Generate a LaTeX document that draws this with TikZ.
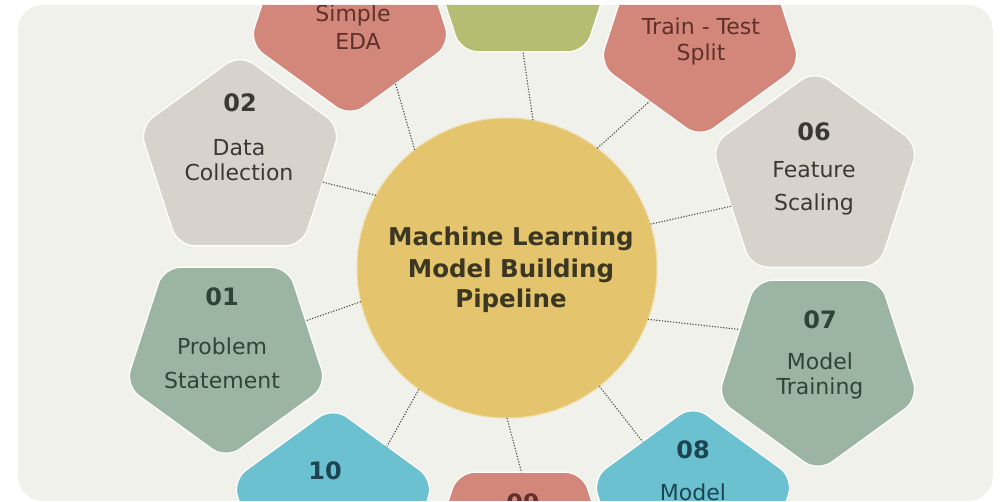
\documentclass[tikz,border=0pt]{standalone}
\usepackage{fontspec}
\setmainfont{DejaVu Sans}
\usetikzlibrary{shapes.geometric}
\definecolor{panelc}{HTML}{F1F1EB}
\definecolor{hubc}{HTML}{E4C46C}
\definecolor{greenc}{HTML}{9CB5A2}
\definecolor{beigec}{HTML}{D8D2CC}
\definecolor{salmonc}{HTML}{D3877B}
\definecolor{olivec}{HTML}{B5BD73}
\definecolor{cyanc}{HTML}{6BC1CF}
\definecolor{linkc}{HTML}{4A4A46}
\definecolor{titlec}{HTML}{3B3722}
\definecolor{gtxt}{HTML}{2E4536}
\definecolor{btxt}{HTML}{3A3836}
\definecolor{stxt}{HTML}{5E3029}
\definecolor{ctxt}{HTML}{1C4451}
\begin{document}
\begin{tikzpicture}[x=1pt,y=-1pt,
  pent/.style={regular polygon, regular polygon sides=5, minimum size=212pt,
    inner sep=0pt, outer sep=0pt, rounded corners=17pt, draw=white, line width=1.2pt},
  pup/.style={pent},
  pdown/.style={pent, shape border rotate=180},
  link/.style={draw=linkc, line width=1.1pt, dash pattern=on 1.2pt off 1.6pt},
  num/.style={font=\fontsize{24}{28}\selectfont\bfseries, anchor=base, inner sep=0pt},
  lbl/.style={font=\fontsize{22}{26}\selectfont, anchor=base, inner sep=0pt},
  ttl/.style={font=\fontsize{24.5}{30}\selectfont\bfseries, anchor=base, inner sep=0pt, text=titlec}]
\useasboundingbox (0,0) rectangle (1005,502);
\fill[white] (0,0) rectangle (1005,502);
\begin{scope}
\clip[rounded corners=25pt] (18,5) rectangle (993,501);
\fill[panelc] (18,5) rectangle (993,501);

% pentagons
\node[pdown, fill=greenc]  (p01) at (226,353) {};
\node[pup,   fill=beigec]  (p02) at (240,160) {};
\node[pdown, fill=salmonc] (p03) at (350,11) {};
\node[pup,   fill=olivec]  (p04) at (523,-34) {};
\node[pdown, fill=salmonc] (p05) at (700,32) {};
\node[pup,   fill=beigec, minimum size=218pt] (p06) at (815,179) {};
\node[pdown, fill=greenc]  (p07) at (818,366) {};
\node[pup,   fill=cyanc]   (p08) at (693,511) {};
\node[pdown, fill=salmonc] (p09) at (520,558) {};
\node[pup,   fill=cyanc]   (p10) at (333,513) {};

% hub
\node[circle, fill=hubc, draw=hubc!60!white, line width=1pt, minimum size=300pt,
  inner sep=0pt, outer sep=0pt] (hub) at (507,268) {};

% connectors
\draw[link] (hub.193.9) -- (p01.22.7);
\draw[link] (hub.151)   -- (p02.-15.1);
\draw[link] (hub.128)   -- (p03.-58.6);
\draw[link] (hub.80.4)  -- (p04.-90);
\draw[link] (hub.53)    -- (p05.-126);
\draw[link] (hub.17.6)  -- (p06.198.4);
\draw[link] (hub.-20.3) -- (p07.155.4);
\draw[link] (hub.-52)   -- (p08.126.2);
\draw[link] (hub.-90)   -- (p09.89);
\draw[link] (hub.-126)  -- (p10.51.8);

% title
\node[ttl] (t1) at (511,246) {Machine Learning};
\node[ttl] (t2) at (511,278) {Model Building};
\node[ttl] (t3) at (511,308) {Pipeline};

% 01
\node[num, text=gtxt] (n01) at (222,306) {01};
\node[lbl, text=gtxt] (l01a) at (222,355) {Problem};
\node[lbl, text=gtxt] (l01b) at (222,389) {Statement};
% 02
\node[num, text=btxt] (n02) at (240,112) {02};
\node[lbl, text=btxt] (l02a) at (239,156) {Data};
\node[lbl, text=btxt] (l02b) at (239,181) {Collection};
% 03
\node[lbl, text=stxt] (l03a) at (353,22) {Simple};
\node[lbl, text=stxt] (l03b) at (358,50) {EDA};
% 05
\node[lbl, text=stxt] (l05a) at (701,35) {Train - Test};
\node[lbl, text=stxt] (l05b) at (701,61) {Split};
% 06
\node[num, text=btxt] (n06) at (814,141) {06};
\node[lbl, text=btxt] (l06a) at (814,178) {Feature};
\node[lbl, text=btxt] (l06b) at (814,211) {Scaling};
% 07
\node[num, text=gtxt] (n07) at (820,329) {07};
\node[lbl, text=gtxt] (l07a) at (820,370) {Model};
\node[lbl, text=gtxt] (l07b) at (820,395) {Training};
% 08
\node[num, text=ctxt] (n08) at (693,459) {08};
\node[lbl, text=ctxt] (l08a) at (693,501) {Model};
% 09
\node[num, text=stxt] (n09) at (523,512) {09};
% 10
\node[num, text=ctxt] (n10) at (325,480) {10};
\end{scope}
\end{tikzpicture}
\end{document}
